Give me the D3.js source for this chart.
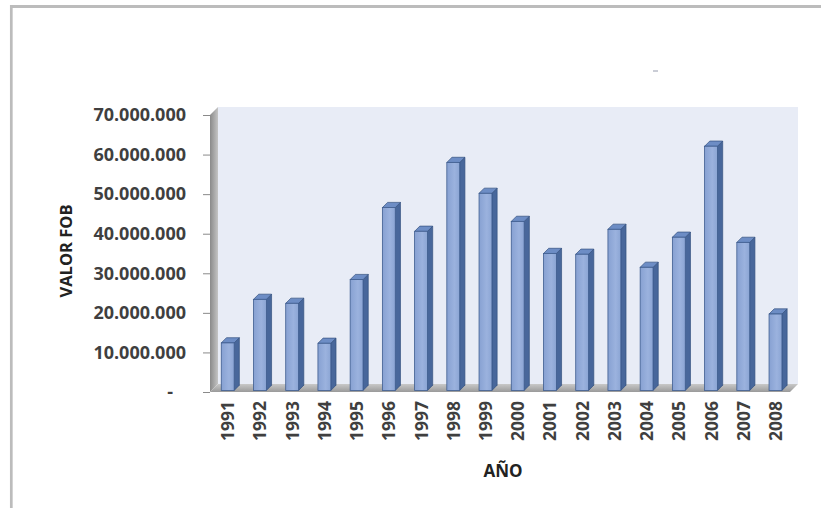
<!DOCTYPE html>
<html>
<head>
<meta charset="utf-8">
<script src="https://cdn.jsdelivr.net/npm/d3@7"></script>
<style>
  body { margin: 0; background: #fff; }
  text { font-family: "Open Sans", "Liberation Sans", Arial, sans-serif; }
</style>
</head>
<body>
<div id="chart"></div>
<script>
// Datos
const anios = ["1991","1992","1993","1994","1995","1996","1997","1998","1999",
               "2000","2001","2002","2003","2004","2005","2006","2007","2008"];
const valorFob = [12000000, 23000000, 22000000, 11900000, 28000000, 46200000,
                  40200000, 57600000, 49800000, 42700000, 34600000, 34400000,
                  40700000, 31100000, 38700000, 61700000, 37400000, 19300000];
const ticksY = [0, 10000000, 20000000, 30000000, 40000000, 50000000, 60000000, 70000000];

const W = 821, H = 508;
const x0 = 210, x1 = 790, yCero = 392, yTope = 115;
const D = 8;               // profundidad 3D
const of = 1.6, ob = 6.8;  // frente y fondo de la barra

const svg = d3.select("#chart").append("svg")
    .attr("width", W).attr("height", H);

const defs = svg.append("defs");
const gPared = defs.append("linearGradient").attr("id", "pared")
    .attr("x1", 0).attr("x2", 1).attr("y1", 0).attr("y2", 0);
gPared.append("stop").attr("offset", "0%").attr("stop-color", "#8a8a8a");
gPared.append("stop").attr("offset", "100%").attr("stop-color", "#c4c4c4");
const gPiso = defs.append("linearGradient").attr("id", "piso")
    .attr("x1", 0).attr("x2", 0).attr("y1", 0).attr("y2", 1);
gPiso.append("stop").attr("offset", "0%").attr("stop-color", "#c8c8c8");
gPiso.append("stop").attr("offset", "100%").attr("stop-color", "#9a9a9a");
const gBarra = defs.append("linearGradient").attr("id", "barra")
    .attr("x1", 0).attr("x2", 1).attr("y1", 0).attr("y2", 0);
gBarra.append("stop").attr("offset", "0%").attr("stop-color", "#87a1d2");
gBarra.append("stop").attr("offset", "60%").attr("stop-color", "#9bb2de");
gBarra.append("stop").attr("offset", "100%").attr("stop-color", "#8ba5d4");

// Marco
svg.append("line").attr("x1", 10).attr("x2", W).attr("y1", 6.5).attr("y2", 6.5)
    .attr("stroke", "#bcbcbc").attr("stroke-width", 3);
svg.append("line").attr("x1", 11.3).attr("x2", 11.3).attr("y1", 5).attr("y2", H)
    .attr("stroke", "#bcbcbc").attr("stroke-width", 2.7);
// pequeña marca suelta
svg.append("line").attr("x1", 653).attr("x2", 658).attr("y1", 71).attr("y2", 71)
    .attr("stroke", "#b8bcc8").attr("stroke-width", 1.5);

// Escalas
const x = d3.scaleBand().domain(anios).range([x0, x1])
    .paddingInner(0.6).paddingOuter(0.3);
const y = d3.scaleLinear().domain([0, 70000000]).range([yCero, yTope]);

const pts = p => p.map(d => d.join(",")).join(" ");

// Pared de fondo
svg.append("polygon")
    .attr("points", pts([[x0 + D, yTope - D], [x1 + D, yTope - D], [x1 + D, yCero - D], [x0 + D, yCero - D]]))
    .attr("fill", "#e8ecf6");
// Pared lateral
svg.append("polygon")
    .attr("points", pts([[x0, yTope], [x0 + D, yTope - D], [x0 + D, yCero - D], [x0, yCero]]))
    .attr("fill", "url(#pared)");
// Piso
svg.append("polygon")
    .attr("points", pts([[x0, yCero], [x0 + D, yCero - D], [x1 + D, yCero - D], [x1, yCero]]))
    .attr("fill", "url(#piso)");

// Barras
const barras = svg.selectAll("g.barra")
    .data(anios.map((a, i) => ({ anio: a, valor: valorFob[i] })))
    .enter().append("g").attr("class", "barra");

const bw = x.bandwidth();
barras.append("polygon")
    .attr("points", d => {
      const bx = x(d.anio) + bw, yv = y(d.valor);
      return pts([[bx + of, yv - of], [bx + ob, yv - ob], [bx + ob, yCero - ob], [bx + of, yCero - of]]);
    })
    .attr("fill", "#48679b").attr("stroke", "#34507e").attr("stroke-width", 0.7);
barras.append("polygon")
    .attr("points", d => {
      const bx = x(d.anio), yv = y(d.valor);
      return pts([[bx + of, yv - of], [bx + ob, yv - ob], [bx + bw + ob, yv - ob], [bx + bw + of, yv - of]]);
    })
    .attr("fill", "#6d8dc5").attr("stroke", "#34507e").attr("stroke-width", 0.7);
barras.append("rect")
    .attr("x", d => x(d.anio) + of)
    .attr("y", d => y(d.valor) - of)
    .attr("width", bw)
    .attr("height", d => yCero - y(d.valor))
    .attr("fill", "url(#barra)").attr("stroke", "#3e5d90").attr("stroke-width", 0.8);

// Eje Y
const ejeY = svg.append("g")
    .attr("transform", `translate(${x0},0)`)
    .call(d3.axisLeft(y).tickValues(ticksY).tickSize(7).tickPadding(17)
      .tickFormat(d => d === 0 ? "-" : d3.format(",")(d).replace(/,/g, ".")));
ejeY.select(".domain").remove();
ejeY.selectAll(".tick line").attr("stroke", "#8a8a8a");
ejeY.selectAll(".tick text")
    .style("font-size", "18px").style("font-weight", "bold").attr("fill", "#3f3f3f")
    .attr("dx", d => d === 0 ? -13 : 0);

// Eje X
const ejeX = svg.append("g")
    .attr("transform", `translate(2,${yCero})`)
    .call(d3.axisBottom(x).tickSize(0));
ejeX.select(".domain").remove();
ejeX.selectAll(".tick text")
    .attr("transform", "rotate(-90)")
    .attr("x", -9).attr("y", 0).attr("dy", "0.35em")
    .attr("text-anchor", "end")
    .style("font-size", "17.5px").style("font-weight", "bold").attr("fill", "#3f3f3f");

// Títulos
svg.append("text")
    .attr("transform", "translate(66,251) rotate(-90)")
    .attr("text-anchor", "middle").attr("dy", "0.35em")
    .style("font-size", "16.5px").style("font-weight", "bold").attr("fill", "#222")
    .text("VALOR FOB");
svg.append("text")
    .attr("x", 503).attr("y", 477)
    .attr("text-anchor", "middle")
    .style("font-size", "17px").style("font-weight", "bold").attr("fill", "#222")
    .text("AÑO");
</script>
</body>
</html>
